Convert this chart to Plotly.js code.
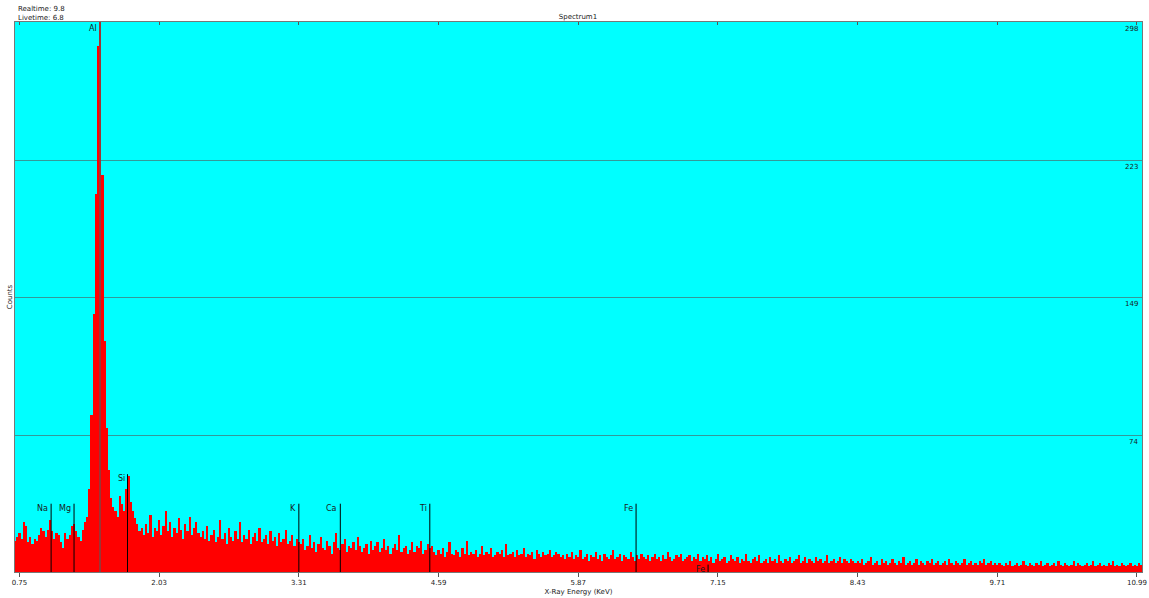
<!DOCTYPE html>
<html><head><meta charset="utf-8">
<script src="https://cdn.plot.ly/plotly-3.0.1.min.js"></script>
<style>html,body{margin:0;padding:0;background:#fff}#chart{width:1149px;height:598px}</style>
</head><body><div id="chart"></div><script>
// Channel calibration (keV): first bar centre and bar width
const startEnergy = 0.71;
const channelWidth = 0.02;

// Counts per channel, split by energy range
const counts_071_135 = [17,19,21,18,27,25,16,19,15,18,17,20,24,22,19,23,28,22,18,21,20,16,13,21,18,20,25,26,22,19,17,23,27];
const counts_137_161 = [30,45,85,140,205,285,298,215,125,78,55,40,35];
const counts_163_189 = [33,30,41,37,33,45,52,38,33,29,26,22,24,20];
const counts_191_241 = [26,21,31,19,24,22,28,20,25,33,22,27,19,24,21,29,23,18,26,22,30,20,24,27,21,19];
const counts_243_331 = [22,18,25,17,20,23,16,19,28,18,21,15,24,19,17,22,18,27,16,20,18,23,15,19,21,17,24,16,18,20,15,22,17,19,14,21,16,18,23,15,17,20,14,18,16];
const counts_333_451 = [15,18,12,14,20,13,16,11,15,19,13,12,17,14,10,16,21,13,12,15,18,11,14,13,16,12,19,14,11,13,15,10,17,12,14,16,11,13,18,12,14,10,13,15,12,20,11,13,14,10,12,16,11,14,13,17,10,12,15,13];
const counts_453_571 = [14,11,9,12,10,13,8,11,16,10,9,12,11,8,13,10,17,9,11,10,12,8,10,14,9,11,10,13,8,9,11,10,12,8,15,9,10,11,8,12,9,10,13,8,10,9,11,7,12,10,8,11,9,10,12,8,9,11,10,8];
const counts_573_701 = [9,7,10,8,11,7,9,8,12,7,8,10,6,9,8,11,7,9,6,10,8,7,9,12,7,8,10,6,9,8,7,11,8,6,9,7,10,8,7,9,6,8,10,7,8,6,9,7,11,8,6,7,9,8,10,6,7,8,9,6,8,7,10,6,8];
const counts_703_841 = [7,9,6,8,5,7,10,6,7,8,5,6,9,7,6,8,5,7,6,10,6,5,7,8,6,9,5,6,7,5,8,6,7,5,9,6,5,7,6,8,5,6,7,9,5,6,8,5,7,6,5,8,6,7,5,6,9,5,6,7,5,6,8,5,7,6,5,7,6,5];
const counts_843_971 = [6,5,7,4,5,6,8,4,5,6,4,7,5,6,4,5,7,5,4,6,5,8,4,5,6,4,5,7,4,6,5,4,6,5,7,4,5,6,4,5,6,4,7,5,4,6,5,4,5,7,4,5,6,4,5,4,6,5,7,4,5,6,4,5,4];
const counts_973_1103 = [5,4,3,5,4,6,3,4,5,3,4,6,4,3,5,4,3,5,4,6,3,4,5,3,4,5,3,6,4,3,5,4,3,4,6,3,5,4,3,4,5,3,4,6,3,4,5,3,4,3,5,4,6,3,4,3,5,4,3,4,5,3,4,3,5,4];

// Axis ticks
const xTickVals = [0.75,2.03,3.31,4.59,5.87,7.15,8.43,9.71,10.99];
const xTickText = ['0.75','2.03','3.31','4.59','5.87','7.15','8.43','9.71','10.99'];
const yTickVals = [74,149,223,298];
const yTickText = ['74','149','223','298'];

// Element marker lines
const elemNames  = ['Na','Mg','Al','Si','K','Ca','Ti','Fe','Fe'];
const elemEnergy = [1.04,1.25,1.488,1.74,3.31,3.69,4.51,6.40,7.06];
const elemHeight = [37,37,298,53,37,37,37,37,4];

const counts = [].concat(counts_071_135,counts_137_161,counts_163_189,counts_191_241,counts_243_331,
  counts_333_451,counts_453_571,counts_573_701,counts_703_841,counts_843_971,counts_973_1103);

const xRange = [0.709, 11.036];
const yRange = [0, 298];
const FONT = 'DejaVu Sans';
const txt = '#1a1a1a';

const trace = {
  type:'bar', x0:startEnergy, dx:channelWidth, y:counts, width:channelWidth,
  marker:{color:'#ff0000', line:{width:0}}, hoverinfo:'x+y'
};
const ghost = {type:'scatter', x:xRange, y:[0,0], xaxis:'x2', mode:'lines', line:{width:0}, hoverinfo:'skip', showlegend:false};

const shapes = elemNames.map((n,i)=>({
  type:'line', xref:'x', yref:'y', x0:elemEnergy[i], x1:elemEnergy[i], y0:0, y1:elemHeight[i],
  line:{color: n==='Al' ? '#3a6a6a' : '#000000', width:1}, layer:'above'
}));

const annotations = elemNames.map((n,i)=>({
  xref:'x', yref:'y', x:elemEnergy[i], y:elemHeight[i], text:n, showarrow:false,
  xanchor:'right', yanchor:'top', xshift:-1, yshift:(n==='Al'?0:2), font:{family:FONT, size:8, color:txt}
}));
yTickVals.forEach((v,i)=>annotations.push({
  xref:'paper', yref:'y', x:1, y:v, text:yTickText[i], showarrow:false,
  xanchor:'right', yanchor:'top', xshift:-2, yshift:-1, font:{family:FONT, size:7, color:txt}
}));
annotations.push({xref:'paper', yref:'paper', x:0, y:1, xshift:1, yshift:13, text:'Realtime: 9.8', showarrow:false, xanchor:'left', yanchor:'middle', font:{family:FONT,size:7,color:txt}});
annotations.push({xref:'paper', yref:'paper', x:0, y:1, xshift:1, yshift:4, text:'Livetime: 6.8', showarrow:false, xanchor:'left', yanchor:'middle', font:{family:FONT,size:7,color:txt}});

const layout = {
  width:1149, height:598,
  margin:{l:15, r:7, t:22, b:26},
  paper_bgcolor:'#ffffff', plot_bgcolor:'#00ffff',
  bargap:0, showlegend:false,
  title:{text:'Spectrum1', x:0.503, xanchor:'center', y:1-17/598, yref:'container', yanchor:'middle', font:{family:FONT, size:7, color:txt}},
  xaxis:{range:xRange, tickmode:'array', tickvals:xTickVals, ticktext:xTickText, ticks:'outside', ticklen:4, tickcolor:'#555',
    showgrid:false, zeroline:false, showline:true, linecolor:'#777', linewidth:1, mirror:true,
    tickfont:{family:FONT, size:7, color:txt},
    title:{text:'X-Ray Energy (KeV)', standoff:2, font:{family:FONT, size:7, color:txt}}, automargin:false},
  xaxis2:{range:xRange, overlaying:'x', side:'top', tickmode:'array', tickvals:xTickVals, ticks:'inside', ticklen:3, tickcolor:'#555',
    showticklabels:false, showgrid:false, zeroline:false, showline:false},
  yaxis:{range:yRange, tickmode:'array', tickvals:yTickVals, showticklabels:false, ticks:'', showgrid:true, gridcolor:'#339999', gridwidth:1,
    zeroline:false, showline:true, linecolor:'#777', linewidth:1, mirror:true,
    title:{text:'Counts', standoff:0, font:{family:FONT, size:7, color:txt}}, automargin:false},
  shapes:shapes, annotations:annotations
};
Plotly.newPlot('chart',[trace, ghost],layout,{displayModeBar:false, staticPlot:true});
</script></body></html>
